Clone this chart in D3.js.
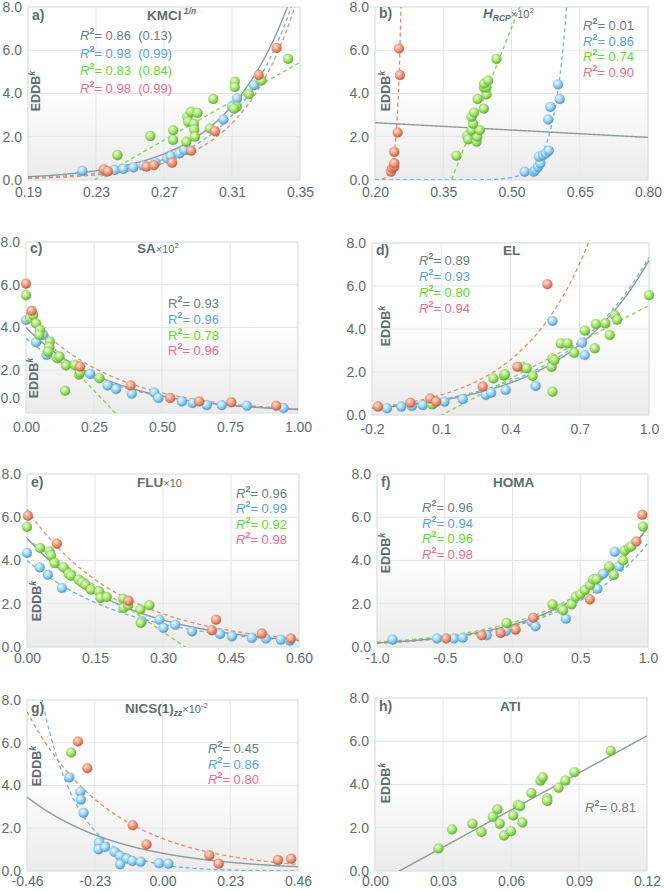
<!DOCTYPE html>
<html><head><meta charset="utf-8">
<script src="https://cdn.jsdelivr.net/npm/d3@7"></script>
<style>
body{margin:0;background:#fff;}
svg{display:block;font-family:"Liberation Sans",Arial,sans-serif;}
</style></head><body>
<svg id="chart" width="664" height="892"></svg>
<script>
// ---------- tick labels ----------
const yTicks=["0.0","2.0","4.0","6.0","8.0"];
const aXTicks=["0.19","0.23","0.27","0.31","0.35"];
const bXTicks=["0.20","0.35","0.50","0.65","0.80"];
const cXTicks=["0.00","0.25","0.50","0.75","1.00"];
const dXTicks=["-0.2","0.1","0.4","0.7","1.0"];
const eXTicks=["0.00","0.15","0.30","0.45","0.60"];
const fXTicks=["-1.0","-0.5","0.0","0.5","1.0"];
const gXTicks=["-0.46","-0.23","0.00","0.23","0.46"];
const hXTicks=["0.00","0.03","0.06","0.09","0.12"];

// ---------- data: [x, EDDB^k] ----------
const aBlue=[[0.222,0.42],[0.236,0.38],[0.241,0.46],[0.246,0.51],[0.252,0.58],[0.258,0.66],[0.265,0.80],[0.272,1.00],[0.274,1.10],[0.279,1.23],[0.282,1.38],[0.305,2.80],[0.310,3.40],[0.313,3.77],[0.323,4.38]];
const aGreen=[[0.2426,1.15],[0.262,2.03],[0.2754,2.30],[0.2754,1.85],[0.2832,1.77],[0.2838,2.92],[0.2858,3.15],[0.2842,2.70],[0.2876,2.60],[0.2878,2.33],[0.2882,2.00],[0.2897,3.10],[0.297,2.38],[0.299,3.74],[0.3117,4.54],[0.3117,4.30],[0.3127,3.38],[0.3112,3.30],[0.320,3.97],[0.3274,4.60],[0.343,5.60]];
const aRed=[[0.2346,0.49],[0.237,0.40],[0.2597,0.62],[0.264,0.68],[0.2748,0.80],[0.286,1.35],[0.300,2.26],[0.3257,4.85],[0.3363,6.10]];

const bBlue=[[0.529,0.38],[0.549,0.38],[0.5527,0.46],[0.5585,0.62],[0.5636,0.77],[0.5607,1.08],[0.5695,1.15],[0.5754,1.23],[0.582,1.35],[0.5805,2.80],[0.5856,3.38],[0.6024,4.42],[0.606,3.74]];
const bGreen=[[0.379,1.12],[0.4027,2.03],[0.405,1.88],[0.4232,1.77],[0.4247,2.00],[0.4122,2.30],[0.4305,2.30],[0.4158,2.60],[0.4122,2.92],[0.418,3.12],[0.4254,3.74],[0.4393,3.30],[0.445,3.95],[0.4393,4.28],[0.445,4.28],[0.440,4.46],[0.4488,4.60],[0.467,5.60]];
const bRed=[[0.235,0.38],[0.238,0.55],[0.2424,0.62],[0.2425,0.77],[0.2424,1.30],[0.2498,2.20],[0.2549,4.85],[0.2527,6.08]];

const cBlue=[[0,4.35],[0.037,3.31],[0.064,3.65],[0.076,2.72],[0.236,1.83],[0.300,1.29],[0.331,1.12],[0.389,0.90],[0.471,0.96],[0.487,0.70],[0.573,0.54],[0.613,0.47],[0.665,0.37],[0.720,0.36],[0.812,0.34],[0.947,0.23]];
const cGreen=[[0,5.51],[0.015,4.43],[0.027,4.58],[0.037,4.19],[0.052,3.88],[0.049,3.65],[0.088,3.34],[0.086,3.10],[0.082,2.87],[0.115,2.56],[0.123,2.64],[0.147,2.22],[0.180,2.25],[0.195,1.79],[0.199,1.89],[0.144,1.04],[0.270,1.63]];
const cRed=[[0,6.05],[0.021,4.78],[0.199,2.17],[0.385,1.29],[0.530,0.70],[0.637,0.54],[0.755,0.50],[0.920,0.34]];

const dBlue=[[-0.135,0.31],[-0.073,0.39],[-0.027,0.42],[0.020,0.46],[0.064,0.50],[0.114,0.62],[0.193,0.74],[0.293,0.93],[0.316,1.04],[0.379,1.16],[0.509,1.35],[0.582,4.37],[0.710,3.36],[0.722,2.79]];
const dGreen=[[0.059,0.50],[0.326,1.70],[0.372,1.83],[0.376,1.89],[0.452,2.24],[0.470,2.17],[0.496,1.81],[0.578,2.24],[0.582,2.63],[0.590,2.55],[0.582,1.08],[0.618,3.33],[0.647,3.33],[0.676,2.89],[0.722,3.92],[0.765,3.10],[0.770,4.23],[0.811,4.26],[0.830,3.72],[0.852,4.64],[0.862,4.43],[1.0,5.57]];
const dRed=[[-0.174,0.39],[-0.034,0.57],[0.052,0.77],[0.078,0.62],[0.280,1.32],[0.430,2.24],[0.560,6.08]];

const eBlue=[[0,4.35],[0.028,3.68],[0.046,3.34],[0.077,2.73],[0.253,1.19],[0.292,1.26],[0.301,0.88],[0.327,1.03],[0.364,0.72],[0.426,0.60],[0.452,0.49],[0.496,0.42],[0.527,0.39],[0.560,0.34],[0.580,0.29]];
const eGreen=[[0,5.55],[0.029,4.58],[0.050,4.42],[0.053,4.24],[0.061,3.88],[0.081,3.68],[0.092,3.39],[0.097,3.30],[0.114,3.11],[0.121,2.99],[0.129,2.88],[0.141,2.65],[0.159,2.57],[0.162,2.27],[0.176,2.31],[0.212,2.23],[0.213,1.80],[0.223,1.93],[0.250,1.73],[0.251,1.11],[0.270,1.93]];
const eRed=[[0.002,6.07],[0.066,4.78],[0.224,2.14],[0.408,0.77],[0.417,1.26],[0.518,0.62],[0.582,0.39]];

const fBlue=[[-0.885,0.34],[-0.558,0.39],[-0.431,0.39],[-0.367,0.43],[-0.190,0.54],[-0.048,0.74],[0.141,1.16],[0.170,0.96],[0.394,1.31],[0.627,2.69],[0.669,3.39],[0.755,4.40],[0.787,3.73]];
const fGreen=[[-0.043,1.11],[0.296,1.97],[0.362,1.78],[0.374,1.70],[0.436,1.97],[0.467,2.32],[0.502,2.44],[0.534,2.63],[0.571,2.86],[0.595,3.13],[0.620,3.13],[0.713,3.72],[0.747,3.33],[0.816,4.00],[0.828,4.46],[0.860,4.60],[0.877,4.65],[0.963,5.57]];
const fRed=[[-0.490,0.39],[-0.227,0.54],[-0.087,0.65],[0.023,0.80],[0.153,1.35],[0.571,2.20],[0.914,4.88],[0.958,6.11]];

const gBlue=[[-0.316,4.38],[-0.279,3.70],[-0.277,3.34],[-0.268,2.72],[-0.215,1.32],[-0.217,1.01],[-0.195,1.12],[-0.163,0.89],[-0.144,0.70],[-0.144,0.31],[-0.121,0.57],[-0.102,0.47],[-0.074,0.43],[-0.012,0.36],[0.020,0.34]];
const gGreen=[[-0.310,5.54]];
const gRed=[[-0.287,6.06],[-0.255,4.81],[-0.101,2.14],[-0.054,1.24],[0.159,0.73],[0.191,0.34],[0.392,0.51],[0.437,0.57]];

const hBlue=[];
const hGreen=[[0.028,1.04],[0.034,1.92],[0.043,2.19],[0.047,1.80],[0.052,2.51],[0.054,2.85],[0.055,2.19],[0.057,1.64],[0.060,1.84],[0.061,2.57],[0.063,3.05],[0.064,3.00],[0.065,2.24],[0.069,3.61],[0.073,4.18],[0.074,4.33],[0.076,3.36],[0.076,3.24],[0.081,3.85],[0.084,4.18],[0.088,4.57],[0.104,5.56]];
const hRed=[];

// ---------- trend lines: [series, type, x0, y0, k]  exp: y=y0*e^(k(x-x0)), lin: y=y0+k(x-x0)
const aFits=[["blue","exp",0.19,0.10,28.3],["green","lin",0.229,0,45],["red","exp",0.19,0.07,30.2],["gray","exp",0.19,0.15,26.07]];
const bFits=[["red","exp",0.257,8,125],["green","lin",0.368,0,53.3],["blue","exp",0.621,8,35],["gray","lin",0.2,2.65,-1.133]];
const cFits=[["blue","exp",0,3.49,-3.02],["green","lin",0,4.4,-13.4],["red","exp",0,4.69,-3.2],["gray","exp",0,4.0,-3.22]];
const dFits=[["blue","exp",-0.2,0.34,2.56],["green","lin",0.1025,0,5.68],["red","exp",-0.2,0.34,3.37],["gray","exp",-0.2,0.31,2.62]];
const eFits=[["blue","exp",0,4.0,-4.43],["green","lin",0,4.99,-14.3],["red","exp",0,6.35,-4.74],["gray","exp",0,5.04,-4.65]];
const fFits=[["blue","exp",-1,0.19,1.615],["green","exp",-1,0.23,1.59],["red","exp",-1,0.17,1.75],["gray","exp",-1,0.19,1.69]];
const gFits=[["blue","exp",-0.409,8,-8.07],["red","exp",-0.46,7.45,-3.46],["gray","exp",-0.46,3.46,-3.1]];
const hFits=[["gray","lin",0.0107,0,57.2]];

// ---------- R^2 labels ----------
const aR2=[["gray","0.86  (0.13)"],["blue","0.98  (0.99)"],["green","0.83  (0.84)"],["red","0.98  (0.99)"]];
const bR2=[["gray","0.01"],["blue","0.86"],["green","0.74"],["red","0.90"]];
const cR2=[["gray","0.93"],["blue","0.96"],["green","0.78"],["red","0.96"]];
const dR2=[["gray","0.89"],["blue","0.93"],["green","0.80"],["red","0.94"]];
const eR2=[["gray","0.96"],["blue","0.99"],["green","0.92"],["red","0.98"]];
const fR2=[["gray","0.96"],["blue","0.94"],["green","0.96"],["red","0.98"]];
const gR2=[["gray","0.45"],["blue","0.86"],["red","0.80"]];
const hR2=[["gray","0.81"]];

// ---------- titles ----------
const aTitle=[["KMCI","b"],[" 1/n","supbi"]];
const bTitle=[["H","bi"],["RCP","subbi"],["×10","n"],["2","sup"]];
const cTitle=[["SA","b"],["×10","n"],["2","sup"]];
const dTitle=[["EL","b"]];
const eTitle=[["FLU","b"],["×10","n"]];
const fTitle=[["HOMA","b"]];
const gTitle=[["NICS(1)","b"],["zz","subbi"],["×10","n"],["-2","sup"]];
const hTitle=[["ATI","b"]];

// ---------- styles / layout ----------
const ballColors={blue:["#eef9ff","#9dd4f3","#4b9acb"],green:["#f0fce2","#a8e571","#5eae2c"],red:["#fde3d8","#ee9d81","#c65b3b"]};
const lineColors={gray:"#8d9a9e",blue:"#6cb5e0",green:"#88cf56",red:"#e68b6d"};
const textColors={gray:"#6e7c82",blue:"#5c9fe2",green:"#5fdc2a",red:"#f26b8c"};
const axisColor="#5f6c71";

const panels=[
 {id:"a",lab:"a)",xt:aXTicks,blue:aBlue,green:aGreen,red:aRed,fits:aFits,r2:aR2,title:aTitle,
  x0:28,x1:300,y0:7,y1:180,pad:7,r2x:80,r2y:40,r2dy:17.7,tx:147,ty:20,ex:39.5,ey:91},
 {id:"b",lab:"b)",xt:bXTicks,blue:bBlue,green:bGreen,red:bRed,fits:bFits,r2:bR2,title:bTitle,
  x0:375,x1:648,y0:7,y1:180,pad:7,r2x:583,r2y:30,r2dy:15.7,tx:483,ty:18,ex:389.5,ey:91},
 {id:"c",lab:"c)",xt:cXTicks,blue:cBlue,green:cGreen,red:cRed,fits:cFits,r2:cR2,title:cTitle,upright:true,zeroShift:-15,
  x0:26,x1:298,y0:242,y1:413,pad:9,r2x:168,r2y:308,r2dy:15.8,tx:137,ty:253,ex:37.5,ey:378},
 {id:"d",lab:"d)",xt:dXTicks,blue:dBlue,green:dGreen,red:dRed,fits:dFits,r2:dR2,title:dTitle,
  x0:372,x1:649,y0:243,y1:415,pad:9,r2x:419,r2y:265,r2dy:16,tx:503,ty:255,ex:389.5,ey:326},
 {id:"e",lab:"e)",xt:eXTicks,blue:eBlue,green:eGreen,red:eRed,fits:eFits,r2:eR2,title:eTitle,
  x0:27,x1:299,y0:474,y1:647,pad:6,r2x:236,r2y:498,r2dy:15.3,tx:137,ty:487,ex:41,ey:601},
 {id:"f",lab:"f)",xt:fXTicks,blue:fBlue,green:fGreen,red:fRed,fits:fFits,r2:fR2,title:fTitle,
  x0:377,x1:648,y0:474,y1:647,pad:6,r2x:422,r2y:512,r2dy:15.7,tx:493,ty:487,ex:389.5,ey:553},
 {id:"g",lab:"g)",xt:gXTicks,blue:gBlue,green:gGreen,red:gRed,fits:gFits,r2:gR2,title:gTitle,
  x0:27,x1:298,y0:700,y1:871,pad:5,r2x:208,r2y:753,r2dy:15.5,tx:125,ty:713,ex:41,ey:766},
 {id:"h",lab:"h)",xt:hXTicks,blue:hBlue,green:hGreen,red:hRed,fits:hFits,r2:hR2,title:hTitle,
  x0:375,x1:647,y0:698,y1:871,pad:5,r2x:585,r2y:812,r2dy:15.5,tx:500,ty:711,ex:389.5,ey:783}
];

const svg=d3.select("#chart");
const defs=svg.append("defs");
Object.entries(ballColors).forEach(([k,c])=>{
  const g=defs.append("radialGradient").attr("id","ball-"+k).attr("cx","38%").attr("cy","34%").attr("r","68%");
  g.append("stop").attr("offset","0%").attr("stop-color",c[0]);
  g.append("stop").attr("offset","50%").attr("stop-color",c[1]);
  g.append("stop").attr("offset","100%").attr("stop-color",c[2]);
});
const bg=defs.append("linearGradient").attr("id","plotbg").attr("x1",0).attr("y1",0).attr("x2",0).attr("y2",1);
bg.append("stop").attr("offset","0%").attr("stop-color","#ffffff");
bg.append("stop").attr("offset","45%").attr("stop-color","#ffffff");
bg.append("stop").attr("offset","100%").attr("stop-color","#ebebeb");

const titleStyles={
  b:{size:13.5,weight:"bold",style:"normal",shift:0},
  bi:{size:13.5,weight:"bold",style:"italic",shift:0},
  n:{size:11,weight:"normal",style:"normal",shift:0},
  sup:{size:8,weight:"normal",style:"normal",shift:-5},
  supbi:{size:8.5,weight:"bold",style:"italic",shift:-6},
  subbi:{size:8.5,weight:"bold",style:"italic",shift:3}
};

function drawPanel(p){
  const g=svg.append("g");
  const xv=p.xt.map(Number);
  const yv=yTicks.map(Number);
  const x=d3.scaleLinear().domain([xv[0],xv[xv.length-1]]).range([p.x0,p.x1]);
  const y=d3.scaleLinear().domain([yv[0],yv[yv.length-1]]).range([p.y1,p.y0]);

  g.append("rect").attr("x",p.x0).attr("y",p.y0).attr("width",p.x1-p.x0).attr("height",p.y1-p.y0).attr("fill","url(#plotbg)");
  g.append("g").selectAll("line").data(xv).join("line")
    .attr("x1",d=>x(d)).attr("x2",d=>x(d)).attr("y1",p.y0).attr("y2",p.y1)
    .attr("stroke","#e3e6e7").attr("stroke-width",1);
  g.append("g").selectAll("line").data(yv).join("line")
    .attr("x1",p.x0).attr("x2",p.x1).attr("y1",d=>y(d)).attr("y2",d=>y(d))
    .attr("stroke","#e3e6e7").attr("stroke-width",1);
  g.append("rect").attr("x",p.x0).attr("y",p.y0).attr("width",p.x1-p.x0).attr("height",p.y1-p.y0)
    .attr("fill","none").attr("stroke","#dfe2e3");

  // axes
  const xa=g.append("g").attr("transform",`translate(0,${p.y1})`)
    .call(d3.axisBottom(x).tickValues(xv).tickFormat((d,i)=>p.xt[i]).tickSize(0).tickPadding(p.pad));
  const ya=g.append("g").attr("transform",`translate(${p.x0},0)`)
    .call(d3.axisLeft(y).tickValues(yv).tickFormat((d,i)=>yTicks[i]).tickSize(0).tickPadding(6));
  [xa,ya].forEach(a=>{
    a.attr("font-family",null).attr("font-size",14);
    a.select(".domain").remove();
    a.selectAll("text").attr("fill",axisColor);
  });
  if(p.zeroShift){
    ya.selectAll(".tick").filter(d=>d===0).select("text").attr("transform",`translate(0,${p.zeroShift})`);
  }

  // clip
  const cid="clip-"+p.id;
  defs.append("clipPath").attr("id",cid).append("rect")
    .attr("x",p.x0).attr("y",p.y0).attr("width",p.x1-p.x0).attr("height",p.y1-p.y0);

  // fits
  const fg=g.append("g").attr("clip-path",`url(#${cid})`);
  const [d0,d1]=x.domain();
  p.fits.forEach(([key,type,fx0,fy0,k])=>{
    const f=type==="exp"?(t=>fy0*Math.exp(k*(t-fx0))):(t=>fy0+k*(t-fx0));
    const n=1500;
    const pts=d3.range(n+1).map(i=>{const t=d0+(d1-d0)*i/n;return [t,f(t)];});
    const line=d3.line().defined(d=>d[1]<=11&&d[1]>=-3).x(d=>x(d[0])).y(d=>y(d[1]));
    fg.append("path").attr("d",line(pts)).attr("fill","none")
      .attr("stroke",lineColors[key]).attr("stroke-width",key==="gray"?1.4:1.3)
      .attr("stroke-dasharray",key==="gray"?null:"4,3");
  });

  // points
  const pg=g.append("g");
  ["blue","green","red"].forEach(key=>{
    pg.append("g").selectAll("circle").data(p[key]).join("circle")
      .attr("cx",d=>x(d[0])).attr("cy",d=>y(d[1])).attr("r",5)
      .attr("fill",`url(#ball-${key})`)
      .attr("stroke",ballColors[key][2]).attr("stroke-opacity",0.35).attr("stroke-width",0.6);
  });

  // panel label
  g.append("text").attr("x",p.x0+4).attr("y",p.ty).text(p.lab)
    .attr("font-size",14).attr("font-weight","bold").attr("fill",axisColor);

  // title
  const tt=g.append("text").attr("x",p.tx).attr("y",p.ty).attr("fill",axisColor).style("white-space","pre");
  let cur=0;
  p.title.forEach(([txt,st])=>{
    const s=titleStyles[st];
    tt.append("tspan").text(txt).attr("dy",s.shift-cur).attr("font-size",s.size)
      .attr("font-weight",s.weight).attr("font-style",s.style);
    cur=s.shift;
  });

  // R^2 labels
  p.r2.forEach(([key,val],i)=>{
    const t=g.append("text").attr("x",p.r2x).attr("y",p.r2y+i*p.r2dy)
      .attr("fill",textColors[key]).attr("font-size",13).style("white-space","pre");
    t.append("tspan").text("R").attr("font-style",p.upright?"normal":"italic");
    t.append("tspan").text("2").attr("font-size",9).attr("font-weight","bold").attr("dy",-6);
    t.append("tspan").text("= "+val).attr("dy",6);
  });

  // y axis title
  const yt=g.append("text").attr("transform",`translate(${p.ex},${p.ey}) rotate(-90)`)
    .attr("text-anchor","middle").attr("fill",axisColor).attr("font-weight","bold").attr("font-size",12.5);
  yt.append("tspan").text("EDDB");
  yt.append("tspan").text("k").attr("font-size",9).attr("font-style","italic").attr("dy",-5);
}

panels.forEach(drawPanel);
</script>
</body></html>
